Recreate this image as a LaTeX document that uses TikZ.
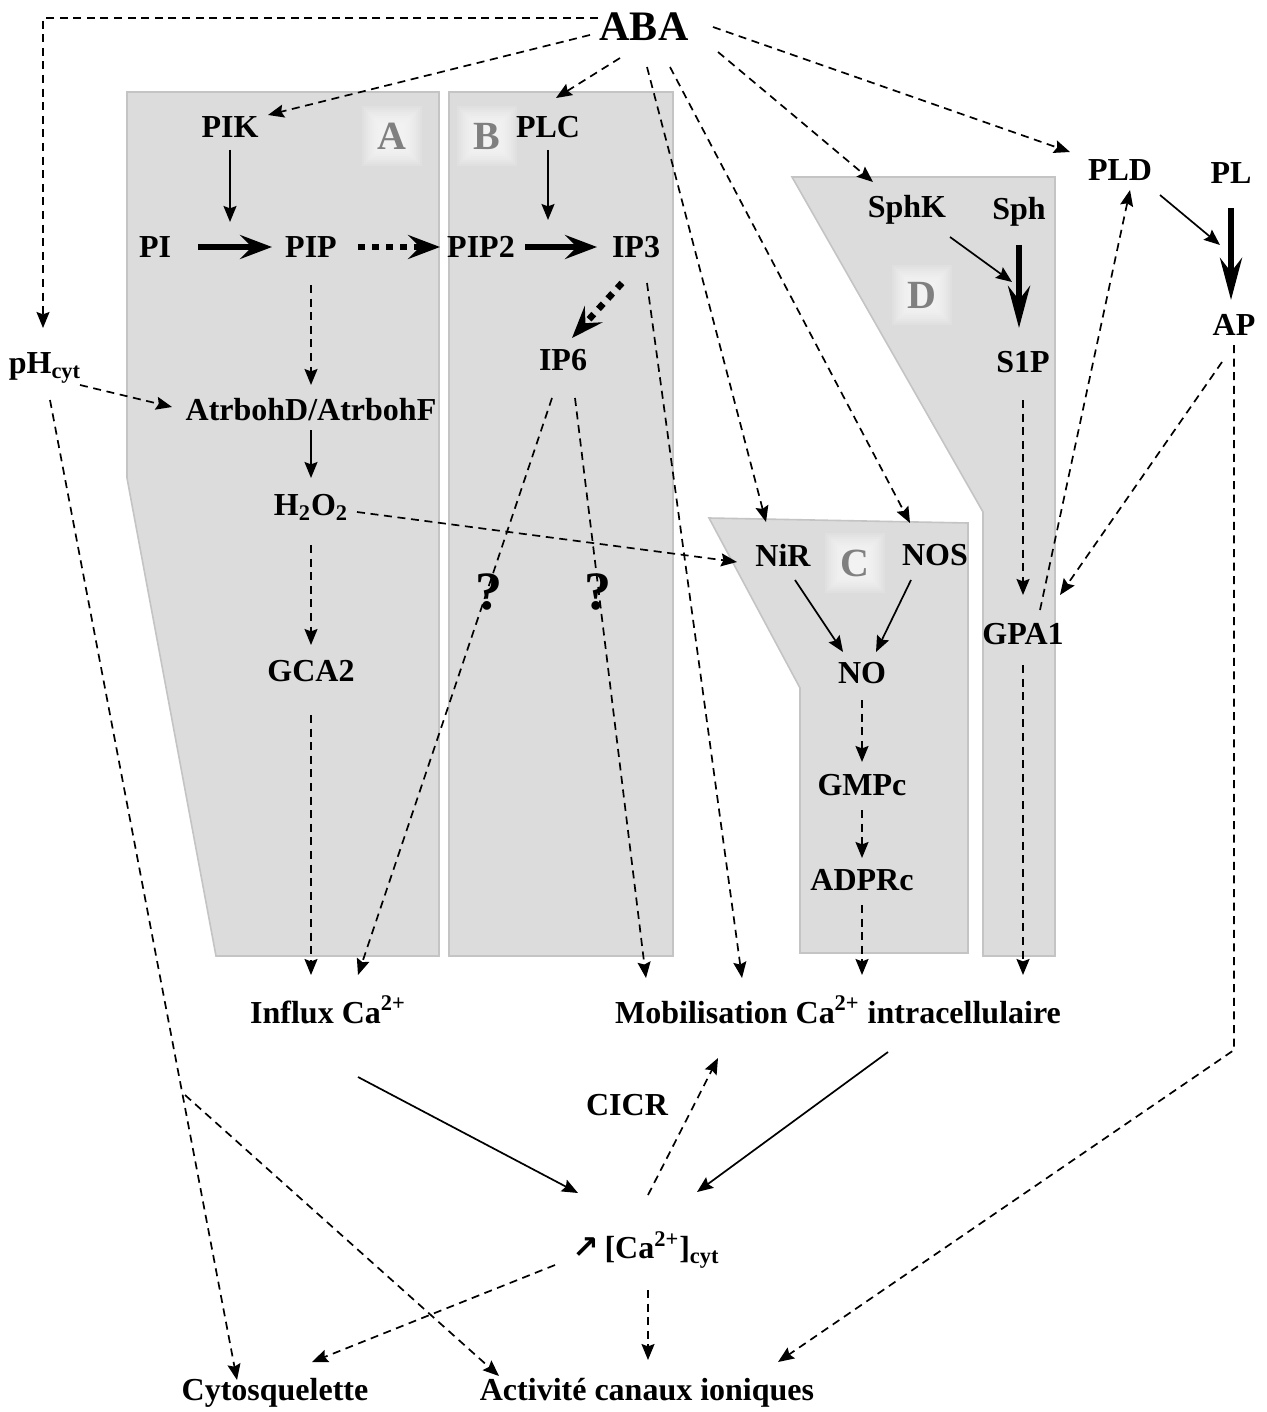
\documentclass[tikz,border=0pt]{standalone}
\usepackage{fontspec}
\setmainfont{Liberation Serif}
\newfontfamily\dvsans{DejaVu Sans}
\usetikzlibrary{arrows.meta}
\definecolor{panelfill}{RGB}{220,220,220}
\definecolor{panelline}{RGB}{196,196,196}
\definecolor{lettergray}{RGB}{128,128,128}
\begin{document}
\begin{tikzpicture}[x=0.5pt,y=-0.5pt,
  lbl/.style={font=\bfseries\fontsize{16}{19}\selectfont, inner sep=0pt},
  big/.style={font=\bfseries\fontsize{21}{25}\selectfont, inner sep=0pt},
  region/.style={font=\bfseries\fontsize{20}{24}\selectfont, text=lettergray, inner sep=0pt},
  qmark/.style={font=\bfseries\fontsize{27}{30}\selectfont, inner sep=0pt},
  panel/.style={fill=panelfill, draw=panelline, line width=0.8pt, line join=miter},
  con/.style={line width=0.85pt, -{Stealth[length=8pt,width=6.5pt,inset=1.2pt]}},
  dsh/.style={con, dash pattern=on 4pt off 2.8pt},
  thk/.style={line width=3pt, -{Stealth[length=16pt,width=12pt,inset=6pt]}},
  thkv/.style={line width=3pt, -{Stealth[length=21pt,width=11pt,inset=7pt]}},
  thkdot/.style={thk, line width=3.3pt, dash pattern=on 3.5pt off 3.5pt},
]
\fill[white] (0,0) rectangle (1267,1412);
\useasboundingbox (0,0) rectangle (1267,1412);

% panels
\draw[panel] (127,92) -- (439,92) -- (439,956) -- (216,956) -- (127,478) -- cycle;
\draw[panel] (449,92) -- (673,92) -- (673,956) -- (449,956) -- cycle;
\draw[panel] (709,518) -- (968,523) -- (968,953) -- (800,953) -- (800,688) -- cycle;
\draw[panel] (792,177) -- (1055,177) -- (1055,956) -- (983,956) -- (983,512) -- cycle;

% glow behind region letters
\coordinate (gA) at (392,136);
\coordinate (gB) at (487,136);
\coordinate (gC) at (855,563);
\coordinate (gD) at (922,295);
\foreach \c in {gA,gB,gC,gD}{
  \foreach \s in {30,28,...,12}{
    \fill[white,opacity=0.12] ([shift={(-\s,-\s)}]\c) rectangle ([shift={(\s,\s)}]\c);
  }
}
\node[region] (labA) at (gA) {A};
\node[region] (labB) at (gB) {B};
\node[region] (labC) at (gC) {C};
\node[region] (labD) at (gD) {D};

% nodes
\node[big] (ABA) at (644,27) {ABA};
\node[lbl] (PIK) at (230,127) {PIK};
\node[lbl] (PLC) at (548,127) {PLC};
\node[lbl] (PI) at (155,247) {PI};
\node[lbl] (PIP) at (311,247) {PIP};
\node[lbl] (PIP2) at (481,247) {PIP2};
\node[lbl] (IP3) at (636,247) {IP3};
\node[lbl] (IP6) at (563,360) {IP6};
\node[lbl] (pH) at (45,368) {pH\textsubscript{cyt}};
\node[lbl] (Atr) at (311,410) {AtrbohD/AtrbohF};
\node[lbl] (HOO) at (311,507) {H\textsubscript{2}O\textsubscript{2}};
\node[lbl] (GCA) at (311,671) {GCA2};
\node[lbl] (Influx) at (328,1010) {Influx Ca\textsuperscript{2+}};
\node[lbl] (Mob) at (838,1010) {Mobilisation Ca\textsuperscript{2+} intracellulaire};
\node[lbl] (CICR) at (627,1105) {CICR};
\node[lbl] (Ca) at (646,1250) {{\dvsans\bfseries\fontsize{16}{18}\selectfont ↗}\,[Ca\textsuperscript{2+}]\textsubscript{cyt}};
\node[lbl] (Cyto) at (275,1393) {Cytosquelette};
\node[lbl] (Act) at (647,1393) {Activité canaux ioniques};
\node[lbl] (NiR) at (783,555) {NiR};
\node[lbl] (NOS) at (935,555) {NOS};
\node[lbl] (NO) at (862,673) {NO};
\node[lbl] (GMPc) at (862,785) {GMPc};
\node[lbl] (ADPRc) at (862,880) {ADPRc};
\node[lbl] (SphK) at (907,210) {SphK};
\node[lbl] (Sph) at (1019,212) {Sph};
\node[lbl] (S1P) at (1023,362) {S1P};
\node[lbl] (GPA) at (1023,634) {GPA1};
\node[lbl] (PLD) at (1120,170) {PLD};
\node[lbl] (PL) at (1231,173) {PL};
\node[lbl] (AP) at (1234,325) {AP};

% free-end coordinates and junctions
\coordinate (rx1) at (230,222);
\coordinate (rx2) at (548,220);
\coordinate (rx3) at (1012,282);
\coordinate (br) at (185,1095);
\coordinate (apc) at (1234,1050);

% ABA connectors
\draw[dsh] ([shift={(-46,-9)}]ABA.center) -| ([shift={(-2,-40)}]pH.center);
\draw[dsh] ([shift={(-54,8)}]ABA.center) -- ([shift={(38,-12)}]PIK.center);
\draw[dsh] ([shift={(-24,31)}]ABA.center) -- ([shift={(8,-29)}]PLC.center);
\draw[dsh] ([shift={(3,40)}]ABA.center) -- ([shift={(-17,-33)}]NiR.center);
\draw[dsh] ([shift={(26,40)}]ABA.center) -- ([shift={(-25,-32)}]NOS.center);
\draw[dsh] ([shift={(74,25)}]ABA.center) -- ([shift={(-34,-28)}]SphK.center);
\draw[dsh] ([shift={(69,0)}]ABA.center) -- ([shift={(-50,-18)}]PLD.center);

% panel A / B
\draw[con] ([shift={(0,23)}]PIK.center) -- (rx1);
\draw[thk] ([shift={(43,0)}]PI.center) -- ([shift={(-39,0)}]PIP.center);
\draw[thkdot] ([shift={(47,0)}]PIP.center) -- ([shift={(-41,0)}]PIP2.center);
\draw[con] ([shift={(0,23)}]PLC.center) -- (rx2);
\draw[thk] ([shift={(44,0)}]PIP2.center) -- ([shift={(-39,0)}]IP3.center);
\draw[thkdot] ([shift={(-14,36)}]IP3.center) -- ([shift={(9,-22)}]IP6.center);
\draw[dsh] ([shift={(11,36)}]IP3.center) -- ([shift={(-96,-32)}]Mob.center);
\draw[dsh] ([shift={(0,38)}]PIP.center) -- ([shift={(0,-25)}]Atr.center);
\draw[dsh] ([shift={(35,17)}]pH.center) -- ([shift={(-139,-3)}]Atr.center);
\draw[con] ([shift={(0,20)}]Atr.center) -- ([shift={(0,-29)}]HOO.center);
\draw[dsh] ([shift={(46,5)}]HOO.center) -- ([shift={(-46,7)}]NiR.center);
\draw[dsh] ([shift={(0,38)}]HOO.center) -- ([shift={(0,-26)}]GCA.center);
\draw[dsh] ([shift={(0,44)}]GCA.center) -- ([shift={(-17,-35)}]Influx.center);
\draw[dsh] ([shift={(-11,38)}]IP6.center) -- ([shift={(30,-35)}]Influx.center);
\draw[dsh] ([shift={(12,38)}]IP6.center) -- ([shift={(-192,-32)}]Mob.center);
\node[qmark] (q1) at (489,592) {?};
\node[qmark] (q2) at (598,592) {?};

% pH to outputs
\draw[dsh] ([shift={(5,32)}]pH.center) -- ([shift={(-38,-13)}]Cyto.center);
\draw[dsh] (br) -- ([shift={(-148,-17)}]Act.center);

% calcium
\draw[con] ([shift={(30,67)}]Influx.center) -- ([shift={(-68,-57)}]Ca.center);
\draw[con] ([shift={(50,42)}]Mob.center) -- ([shift={(51,-58)}]Ca.center);
\draw[dsh] ([shift={(2,-55)}]Ca.center) -- ([shift={(-120,48)}]Mob.center);
\draw[dsh] ([shift={(-91,15)}]Ca.center) -- ([shift={(37,-31)}]Cyto.center);
\draw[dsh] ([shift={(2,40)}]Ca.center) -- ([shift={(1,-33)}]Act.center);

% PLD / AP
\draw[dsh] ([shift={(0,20)}]AP.center) -- (apc) -- ([shift={(131,-31)}]Act.center);
\draw[dsh] ([shift={(-12,37)}]AP.center) -- ([shift={(37,-39)}]GPA.center);
\draw[dsh] ([shift={(17,-24)}]GPA.center) -- ([shift={(10,20)}]PLD.center);
\draw[con] ([shift={(40,25)}]PLD.center) -- ([shift={(-14,-80)}]AP.center);
\draw[thkv] ([shift={(0,35)}]PL.center) -- ([shift={(-3,-25)}]AP.center);

% panel D
\draw[con] ([shift={(43,27)}]SphK.center) -- (rx3);
\draw[thkv] ([shift={(0,33)}]Sph.center) -- ([shift={(-4,-34)}]S1P.center);
\draw[dsh] ([shift={(0,38)}]S1P.center) -- ([shift={(0,-39)}]GPA.center);
\draw[dsh] ([shift={(0,31)}]GPA.center) -- ([shift={(185,-35)}]Mob.center);

% panel C
\draw[con] ([shift={(12,25)}]NiR.center) -- ([shift={(-19,-21)}]NO.center);
\draw[con] ([shift={(-24,25)}]NOS.center) -- ([shift={(14,-21)}]NO.center);
\draw[dsh] ([shift={(0,27)}]NO.center) -- ([shift={(0,-23)}]GMPc.center);
\draw[dsh] ([shift={(0,25)}]GMPc.center) -- ([shift={(0,-22)}]ADPRc.center);
\draw[dsh] ([shift={(0,25)}]ADPRc.center) -- ([shift={(24,-35)}]Mob.center);
\end{tikzpicture}
\end{document}
